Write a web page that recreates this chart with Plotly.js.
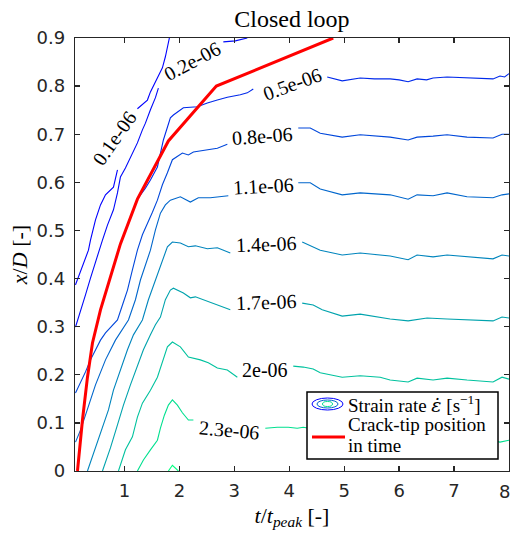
<!DOCTYPE html>
<html><head><meta charset="utf-8">
<script src="https://cdn.plot.ly/plotly-3.0.1.min.js"></script>
<style>body{margin:0;background:#fff}</style>
</head><body><div id="chart" style="width:513px;height:533px"></div>
<script>
// contour levels (x1e-06 s^-1)
const levels = [0.1, 0.2, 0.5, 0.8, 1.1, 1.4, 1.7, 2.0, 2.3, 2.6];
const levelLabels = ["0.1e-06","0.2e-06","0.5e-06","0.8e-06","1.1e-06","1.4e-06","1.7e-06","2e-06","2.3e-06"];

// contour lines (t/t_peak, x/D); null = gap under a label
const c01_t = [0.109,0.236,0.345,0.382,0.473,0.564,0.655,0.800,0.873,null,1.236,1.345,1.418,1.473,1.564,1.691,1.745,1.818];
const c01_y = [0.387,0.428,0.459,0.480,0.522,0.553,0.574,0.590,0.626,null,0.753,0.763,0.771,0.788,0.809,0.838,0.861,0.900];

const c02_t = [0.109,0.200,0.291,0.382,0.473,0.600,0.691,0.800,0.873,0.927,1.018,1.109,1.236,1.327,1.382,1.473,1.564,1.618,null,2.800,3.018,3.236];
const c02_y = [0.299,0.331,0.366,0.401,0.435,0.480,0.511,0.543,0.578,0.611,0.630,0.651,0.682,0.709,0.723,0.751,0.776,0.796,null,0.892,0.894,0.900];

const c05_t = [0.145,0.236,0.327,0.418,0.564,0.927,1.236,1.382,1.473,1.600,1.709,1.836,1.891,2.073,2.327,2.509,2.691,2.873,3.109,3.236,3.345,null,
               4.691,4.964,5.291,5.550,5.836,6.000,6.164,6.327,6.500,6.618,6.873,7.236,7.473,7.709,7.836,7.920,8.000];
const c05_y = [0.000,0.106,0.195,0.266,0.335,0.472,0.565,0.588,0.605,0.632,0.688,0.734,0.740,0.755,0.757,0.765,0.771,0.777,0.782,0.786,0.794,null,
               0.819,0.811,0.817,0.815,0.815,0.813,0.809,0.815,0.813,0.817,0.819,0.817,0.817,0.815,0.821,0.819,0.826];

const c08_t = [0.109,0.200,0.291,0.382,0.473,0.564,0.655,0.745,0.873,0.964,1.055,1.145,1.236,1.327,1.436,1.509,1.600,1.691,1.782,1.873,2.055,2.164,2.255,2.509,2.691,2.873,null,
               4.164,4.382,4.564,4.964,5.291,5.836,6.164,6.327,6.618,6.873,7.236,7.709,7.873,8.000];
const c08_y = [0.162,0.183,0.206,0.231,0.252,0.272,0.287,0.299,0.314,0.345,0.376,0.418,0.459,0.491,0.518,0.538,0.563,0.595,0.620,0.647,0.661,0.657,0.663,0.667,0.671,0.679,null,
               0.713,0.713,0.702,0.694,0.699,0.694,0.688,0.694,0.696,0.699,0.694,0.692,0.700,0.700];

const c11_t = [0.109,0.200,0.291,0.473,0.655,0.836,1.073,1.200,1.291,1.382,1.473,1.564,1.655,1.745,1.836,2.018,2.200,2.345,2.564,2.891,null,
               4.164,4.382,4.564,4.964,5.291,5.836,6.164,6.327,6.618,6.873,7.236,7.709,7.873,8.000];
const c11_y = [0.060,0.085,0.116,0.179,0.231,0.272,0.314,0.356,0.397,0.428,0.459,0.501,0.536,0.553,0.563,0.570,0.559,0.568,0.568,0.572,null,
               0.599,0.599,0.586,0.574,0.578,0.574,0.565,0.574,0.572,0.578,0.570,0.568,0.574,0.576];

const c14_t = [0.327,0.473,0.600,0.709,0.800,0.927,1.055,1.164,1.327,1.436,1.564,1.655,1.782,1.873,2.018,2.164,2.291,2.509,2.691,2.927,null,
               4.236,4.564,4.964,5.291,5.836,6.164,6.327,6.618,6.873,7.236,7.709,7.873,8.000];
const c14_y = [0.000,0.048,0.089,0.127,0.168,0.210,0.252,0.283,0.314,0.356,0.397,0.428,0.466,0.476,0.474,0.466,0.468,0.462,0.464,0.453,null,
               0.476,0.459,0.449,0.453,0.447,0.439,0.449,0.445,0.449,0.445,0.441,0.449,0.447];

const c17_t = [0.600,0.745,0.873,0.982,1.109,1.236,1.345,1.473,1.564,1.655,1.745,1.836,1.891,2.073,2.200,2.291,2.436,2.618,2.800,2.927,null,
               4.236,4.436,4.600,4.964,5.291,5.836,6.164,6.509,6.873,7.236,7.709,7.873,8.000];
const c17_y = [0.000,0.048,0.096,0.137,0.179,0.220,0.252,0.283,0.304,0.320,0.356,0.376,0.380,0.370,0.360,0.362,0.356,0.349,0.341,0.335,null,
               0.349,0.345,0.335,0.322,0.326,0.316,0.312,0.318,0.316,0.314,0.312,0.320,0.318];

const c20_t = [0.891,1.018,1.145,1.236,1.327,1.473,1.600,1.709,1.782,1.873,2.018,2.164,2.255,2.382,2.527,2.691,2.873,3.055,null,
               4.073,4.255,4.436,4.564,4.964,5.291,5.655,5.836,6.164,6.327,6.618,6.873,7.236,7.709,7.873,8.000];
const c20_y = [0.000,0.044,0.071,0.112,0.141,0.168,0.195,0.231,0.258,0.268,0.258,0.237,0.235,0.231,0.225,0.214,0.210,0.195,null,
               0.218,0.216,0.212,0.204,0.195,0.198,0.195,0.189,0.185,0.193,0.189,0.193,0.189,0.185,0.195,0.191];

const c23_t = [1.236,1.345,1.473,1.600,1.655,1.727,1.800,1.873,1.964,2.055,2.164,2.255,null,
               3.564,3.782,3.982,4.145,4.255,4.564,6.018,7.473,7.836,8.000];
const c23_y = [0.000,0.023,0.044,0.064,0.089,0.116,0.137,0.148,0.137,0.121,0.106,0.106,null,
               0.089,0.091,0.091,0.089,0.091,0.085,0.081,0.069,0.060,0.064];

const c26_t = [1.800,1.873,1.982];
const c26_y = [0.000,0.012,0.000];

// crack-tip position in time
const crack_t = [0.145,0.236,0.327,0.418,0.564,0.927,1.236,1.800,2.673,4.800];
const crack_y = [0.000,0.106,0.195,0.266,0.335,0.472,0.565,0.686,0.800,0.900];

// contour label anchors (t/t_peak, x/D) and angles
const lab_t = [0.818,2.236,4.055,3.509,3.527,3.582,3.582,3.564,2.909];
const lab_y = [0.692,0.852,0.805,0.696,0.593,0.472,0.351,0.210,0.085];
const lab_ang = [-55,-28,-20,-4,-3,-2,-2,0,5];

// axis ticks
const xTickVals = [1,2,3,4,5,6,7];
const xLastTick = "8";
const yTickVals = [0,0.1,0.2,0.3,0.4,0.5,0.6,0.7,0.8,0.9];
const yTickText = ['0','0.1','0.2','0.3','0.4','0.5','0.6','0.7','0.8','0.9'];

const lineT = [c01_t,c02_t,c05_t,c08_t,c11_t,c14_t,c17_t,c20_t,c23_t,c26_t];
const lineY = [c01_y,c02_y,c05_y,c08_y,c11_y,c14_y,c17_y,c20_y,c23_y,c26_y];

function winter(v){
  const t = (v - levels[0])/(levels[levels.length-1]-levels[0]);
  return 'rgb(0,' + Math.round(255*t) + ',' + Math.round(255*(1-0.5*t)) + ')';
}

const traces = [];
for (let i=0;i<levels.length;i++){
  traces.push({x: lineT[i], y: lineY[i], type:'scatter', mode:'lines', connectgaps:false,
    line:{color: winter(levels[i]), width:1.1}, hoverinfo:'skip', showlegend:false});
}
traces.push({x: crack_t, y: crack_y, type:'scatter', mode:'lines',
  line:{color:'#ff0000', width:3}, showlegend:false});

const serif = 'Liberation Serif, Times New Roman, serif';
const sans = 'DejaVu Sans, Arial, sans-serif';
const annotations = [];
for (let i=0;i<lab_t.length;i++){
  annotations.push({x: lab_t[i], y: lab_y[i], xref:'x', yref:'y', text: levelLabels[i],
    showarrow:false, textangle: lab_ang[i], borderpad:0, font:{family:serif, size:20, color:'#000'}});
}
// legend (drawn by hand to get the contour icon)
const px = v => (v-75)/434, py = v => (471-v)/433;
annotations.push({xref:'paper', yref:'paper', x:px(347), y:py(404), xanchor:'left', yanchor:'middle', borderpad:0,
  text:'Strain rate <span style="font-family:DejaVu Serif;font-style:italic">ε̇</span> [s<sup>−1</sup>]',
  showarrow:false, font:{family:serif, size:19, color:'#000'}});
annotations.push({xref:'paper', yref:'paper', x:px(347), y:py(424.5), xanchor:'left', yanchor:'middle', borderpad:0,
  text:'Crack-tip position', showarrow:false, font:{family:serif, size:19, color:'#000'}});
annotations.push({xref:'paper', yref:'paper', x:px(347), y:py(445), xanchor:'left', yanchor:'middle', borderpad:0,
  text:'in time', showarrow:false, font:{family:serif, size:19, color:'#000'}});
// last x tick label kept inside the page
annotations.push({xref:'paper', yref:'paper', x:px(511), y:py(491), xanchor:'right', yanchor:'middle', borderpad:0,
  text:xLastTick, showarrow:false, font:{family:sans, size:18, color:'#262626'}});

const shapes = [
  {type:'rect', xref:'paper', yref:'paper', x0:px(307), x1:px(498), y0:py(459), y1:py(392),
   fillcolor:'#fff', line:{color:'#000', width:1.5}, layer:'above'},
  {type:'circle', xref:'paper', yref:'paper', x0:px(312), x1:px(343), y0:py(410), y1:py(398),
   line:{color:winter(0.1), width:1}, layer:'above'},
  {type:'circle', xref:'paper', yref:'paper', x0:px(317), x1:px(338), y0:py(408), y1:py(400),
   line:{color:winter(1.1), width:1}, layer:'above'},
  {type:'circle', xref:'paper', yref:'paper', x0:px(322.5), x1:px(332.5), y0:py(406.5), y1:py(401.5),
   line:{color:winter(2.3), width:1}, layer:'above'},
  {type:'line', xref:'paper', yref:'paper', x0:px(312), x1:px(345), y0:py(437), y1:py(437),
   line:{color:'#ff0000', width:3}, layer:'above'}
];

const axisCommon = {showgrid:false, zeroline:false, showline:true, linecolor:'#262626', linewidth:1.3,
  mirror:'ticks', ticks:'inside', ticklen:5, tickwidth:1.3, tickcolor:'#262626',
  tickfont:{family:sans, size:18, color:'#262626'}};

const layout = {
  width:513, height:533, margin:{l:75, r:4, t:38, b:62},
  paper_bgcolor:'#fff', plot_bgcolor:'#fff', showlegend:false,
  title:{text:'Closed loop', x:0.569, xanchor:'center', y:0.966, yanchor:'middle',
    font:{family:serif, size:24, color:'#000'}},
  xaxis: Object.assign({}, axisCommon, {range:[0.1, 8], tickvals:xTickVals,
    ticklabelstandoff:3,
    title:{text:'<i>t</i>/<i>t</i><sub><i>peak</i></sub> [-]', standoff:7, font:{family:serif, size:22, color:'#000'}}}),
  yaxis: Object.assign({}, axisCommon, {range:[0, 0.9], tickvals:yTickVals,
    ticktext:yTickText, ticklabelstandoff:5,
    title:{text:'<i>x</i>/<i>D</i> [-]', standoff:2, font:{family:serif, size:22, color:'#000'}}}),
  annotations: annotations, shapes: shapes
};
Plotly.newPlot('chart', traces, layout, {displayModeBar:false, staticPlot:true});
</script></body></html>
